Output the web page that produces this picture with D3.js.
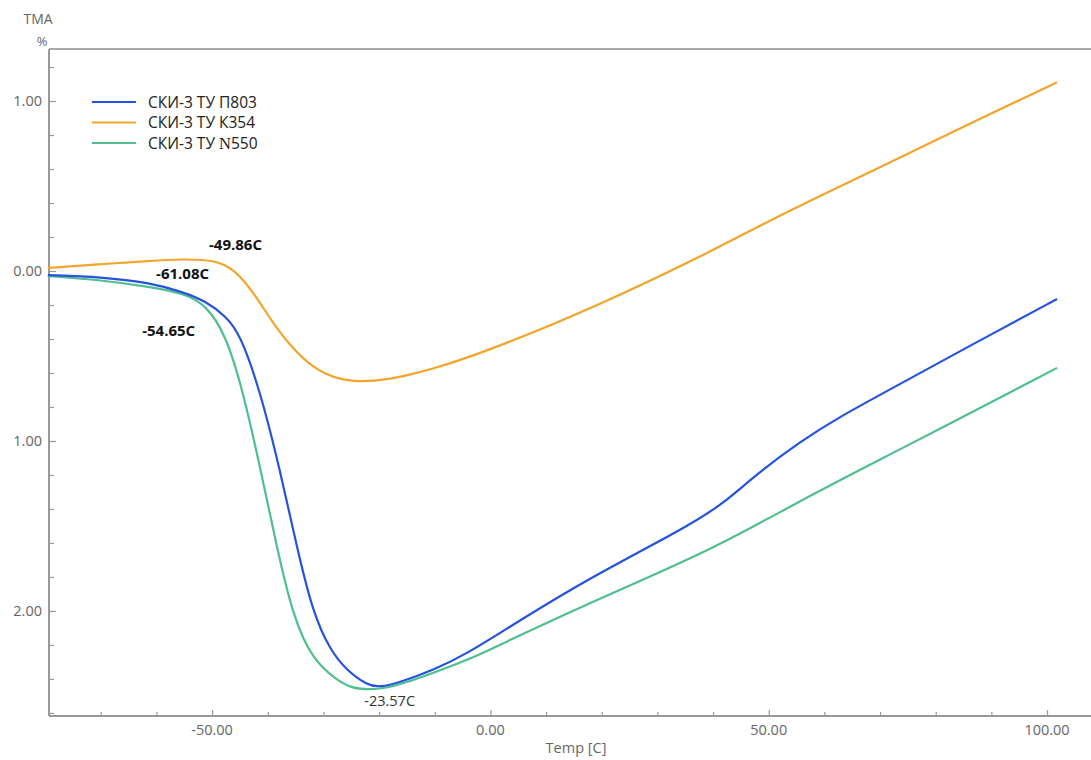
<!DOCTYPE html>
<html><head><meta charset="utf-8">
<script src="https://cdn.jsdelivr.net/npm/d3@7"></script>
<style>body{margin:0;background:#fff}svg{display:block}</style>
</head><body>
<svg id="c" width="1091" height="760"></svg>
<script>
const seriesNames = ["СКИ-3 ТУ П803", "СКИ-3 ТУ К354", "СКИ-3 ТУ N550"];
const seriesColors = ["#2453dc", "#f2a52c", "#4fbf8e"];

const tempP803 = [-79.5,-70,-61,-55.2,-51,-47.4,-45,-41.4,-37.8,-34.8,-31.9,-28.8,-25.8,-22.2,-19.9,-16.3,-10.3,-4.2,1.7,16.1,35.3,41.8,48,55.6,62.3,73.6,85,101.8];
const valP803  = [-0.024,-0.035,-0.07,-0.124,-0.18,-0.27,-0.37,-0.70,-1.17,-1.62,-2.01,-2.23,-2.35,-2.435,-2.45,-2.42,-2.35,-2.25,-2.13,-1.835,-1.506,-1.37,-1.19,-1.006,-0.865,-0.665,-0.46,-0.165];

const tempK354 = [-79.5,-70,-61,-55.7,-49.2,-46,-43.7,-41.5,-39.6,-36,-31.9,-27.6,-23.5,-18.6,-13.9,-10.9,-1.9,19.7,40,52,70,85,101.8];
const valK354  = [0.018,0.04,0.06,0.07,0.065,0.005,-0.08,-0.18,-0.28,-0.44,-0.57,-0.635,-0.653,-0.64,-0.605,-0.58,-0.49,-0.2,0.12,0.33,0.61,0.85,1.11];

const tempN550 = [-79.5,-70,-61,-55.2,-51,-47.5,-44.5,-41.4,-38.4,-35.5,-31.9,-27.6,-25.2,-22.2,-17.5,-10.3,-4.2,1.7,16.1,40,55.6,73.6,101.8];
const valN550  = [-0.03,-0.053,-0.094,-0.13,-0.2,-0.38,-0.70,-1.15,-1.62,-2.03,-2.29,-2.405,-2.45,-2.465,-2.45,-2.365,-2.29,-2.2,-1.976,-1.64,-1.35,-1.05,-0.57];

const xTicks = [-50, 0, 50, 100];
const xTickLabels = ["-50.00", "0.00", "50.00", "100.00"];
const yTicks = [1, 0, -1, -2];
const yTickLabels = ["1.00", "0.00", "1.00", "2.00"];

// label text, and label position (temperature, value)
const annotations = [
  {text: "-49.86C", t: -45.8, v: 0.124, bold: true},
  {text: "-61.08C", t: -55.3, v: -0.047, bold: true},
  {text: "-54.65C", t: -57.8, v: -0.38, bold: true},
  {text: "-23.57C", t: -18.1, v: -2.56, bold: false}
];

const svg = d3.select("#c");
const L = 49, R = 1091, T = 49, B = 716;
const x = d3.scaleLinear().domain([-79.3, 107.9]).range([L, R]);
const y = d3.scaleLinear().domain([-2.618, 1.306]).range([B, T]);
const font = "'Open Sans', 'Noto Sans', sans-serif";

svg.append("line").attr("x1", L).attr("x2", R).attr("y1", T).attr("y2", T).attr("stroke", "#aaa").attr("stroke-width", 2);

const xAxis = d3.axisBottom(x).tickValues(d3.range(-70, 101, 10)).tickSize(0).tickFormat("");
const gx = svg.append("g").attr("transform", `translate(0,${B})`).call(xAxis);
gx.select(".domain").attr("stroke", "#999").attr("stroke-width", 2).attr("d", `M${L},0H${R}`);
gx.selectAll(".tick").append("line").attr("y1", 0).attr("y2", d => xTicks.includes(d) ? -6 : -4).attr("stroke", "#999").attr("stroke-width", 1.2);
xTicks.forEach((t, i) => {
  svg.append("text").attr("x", x(t)).attr("y", B + 19).attr("text-anchor", "middle")
    .attr("font-family", font).attr("font-size", 14.5).attr("fill", "#666").text(xTickLabels[i]);
});

const yMinor = d3.range(-2.6, 1.3, 0.2).map(v => +v.toFixed(2));
const yAxis = d3.axisLeft(y).tickValues(yMinor).tickSize(0).tickFormat("");
const gy = svg.append("g").attr("transform", `translate(${L},0)`).call(yAxis);
gy.select(".domain").attr("stroke", "#999").attr("stroke-width", 2).attr("d", `M0,${T}V${B}`);
gy.selectAll(".tick").append("line").attr("x1", 0).attr("x2", d => yTicks.some(t => Math.abs(t - d) < 1e-6) ? 7 : 5).attr("stroke", "#999").attr("stroke-width", 1.2);
yTicks.forEach((t, i) => {
  svg.append("text").attr("x", 42).attr("y", y(t) + 5).attr("text-anchor", "end")
    .attr("font-family", font).attr("font-size", 14.5).attr("fill", "#666").text(yTickLabels[i]);
});

svg.append("text").attr("x", 38).attr("y", 24).attr("text-anchor", "middle").attr("font-family", font).attr("font-size", 14).attr("fill", "#666").text("TMA");
svg.append("text").attr("x", 42).attr("y", 46).attr("text-anchor", "middle").attr("font-family", font).attr("font-size", 13).attr("fill", "#666").text("%");
svg.append("text").attr("x", 576).attr("y", 753).attr("text-anchor", "middle").attr("font-family", font).attr("font-size", 14.5).attr("fill", "#666").text("Temp  [C]");

const series = [
  {t: tempP803, v: valP803},
  {t: tempK354, v: valK354},
  {t: tempN550, v: valN550}
];
const line = d3.line().x(d => x(d[0])).y(d => y(d[1])).curve(d3.curveBasis);
[2, 0, 1].forEach(i => {
  const s = series[i];
  svg.append("path").datum(s.t.map((t, k) => [t, s.v[k]]))
    .attr("fill", "none").attr("stroke", seriesColors[i]).attr("stroke-width", 2.2).attr("d", line);
});

seriesNames.forEach((n, i) => {
  const yy = 102 + i * 20.5;
  svg.append("line").attr("x1", 92).attr("x2", 136).attr("y1", yy).attr("y2", yy).attr("stroke", seriesColors[i]).attr("stroke-width", 2.2);
  const tx = svg.append("text").attr("x", 148).attr("y", yy + 5.5).attr("font-family", font).attr("font-size", 15.5).attr("fill", "#222");
  if (n.includes("N550")) {
    tx.append("tspan").text("СКИ-3 ТУ ");
    tx.append("tspan").attr("font-family", "'Liberation Serif', serif").attr("font-size", 16.5).text("N");
    tx.append("tspan").text("550");
  } else tx.text(n);
});

annotations.forEach(a => {
  svg.append("text").attr("x", x(a.t)).attr("y", y(a.v)).attr("text-anchor", "middle")
    .attr("font-family", font).attr("font-size", a.bold ? 15 : 14.5).attr("font-weight", a.bold ? 700 : 400)
    .attr("fill", a.bold ? "#111" : "#333").text(a.text);
});
</script>
</body></html>
